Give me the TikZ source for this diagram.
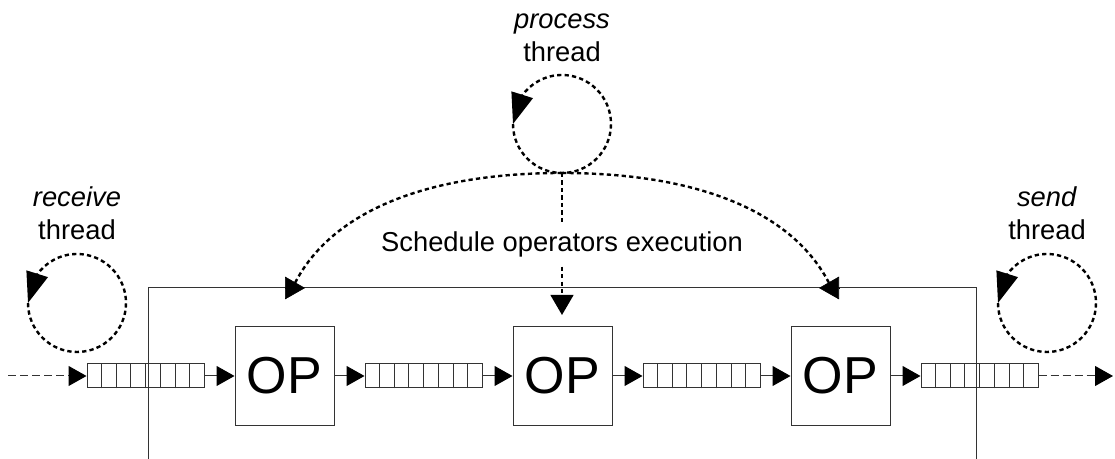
\documentclass[tikz,border=0pt]{standalone}
\usepackage{fontspec}
\setmainfont{Liberation Sans}
\usetikzlibrary{arrows.meta,bending,calc,positioning}

\begin{document}
\begin{tikzpicture}[x=0.75pt,y=0.75pt,
  thin line/.style={draw=black!80,line width=0.75pt},
  queue/.style={thin line,minimum width=87.75pt,minimum height=18pt,inner sep=0pt},
  op/.style={thin line,minimum size=74.25pt,inner sep=0pt,font=\fontsize{39}{39}\selectfont},
  flow/.style={thin line,-{Triangle[length=13.5pt,width=15pt,black]}},
  ext/.style={flow,dash pattern=on 6pt off 3pt},
  thr/.style={line width=1.8pt,dash pattern=on 3.2pt off 2.4pt},
  loop/.style={thr,-{Triangle[length=23pt,width=16.5pt,flex]}},
  schedtip/.style={-{Triangle[length=15pt,width=17pt]}},
  lbl/.style={align=center,anchor=south,inner sep=0pt,font=\fontsize{20.5}{24.75}\selectfont}]
\useasboundingbox (0,0) rectangle (1115,459);

\draw[thin line] (148,0) |- (976,171) -- (976,0);

\node[queue] (q1) at (145.5,83) {};
\node[op, right=22.5pt of q1] (op1) {OP};
\node[queue, right=22.5pt of op1] (q2) {};
\node[op, right=22.5pt of q2] (op2) {OP};
\node[queue, right=22.5pt of op2] (q3) {};
\node[op, right=22.5pt of q3] (op3) {OP};
\node[queue, right=22.5pt of op3] (q4) {};
\foreach \i in {1,...,4}
  \foreach \k in {1,...,7}
    \draw[thin line] ($(q\i.south west)!\k/8!(q\i.south east)$) -- ($(q\i.north west)!\k/8!(q\i.north east)$);
\foreach \i/\j in {1/1,2/2,3/3} {
  \draw[flow] (q\i) -- (op\j);
}
\foreach \i/\j in {1/2,2/3,3/4} {
  \draw[flow] (op\i) -- (q\j);
}
\coordinate (in) at (8,83);
\coordinate (out) at (1113,83);
\draw[ext] (in) -- (q1);
\draw[ext] (q4) -- (out);

\coordinate (rc) at (77,156);
\coordinate (pc) at (562,335);
\coordinate (sc) at (1047,156);
\foreach \c in {rc,pc,sc}
  \draw[loop] ($(\c)+(180:49)$) arc[start angle=180,end angle=540,radius=49];
\node[lbl] (rlbl) at (77,219) {\textit{receive}\\thread};
\node[lbl] (plbl) at (562,397) {\textit{process}\\thread};
\node[lbl] (slbl) at (1047,219) {\textit{send}\\thread};

\coordinate (fork) at (562,286);
\node[font=\fontsize{20.5}{24.75}\selectfont,inner sep=6.5pt,anchor=base] (sched) at (562,207) {Schedule operators execution};
\coordinate (mid) at (562,144);
\draw[thr] (fork) -- (sched.north);
\draw[thr,schedtip] (sched.south) -- (mid);

\coordinate (endL) at (295,176);
\coordinate (endR) at (829,176);
\draw[thr] (fork) .. controls (420,286) and (330,244) .. (endL);
\draw[thr] (fork) .. controls (704,286) and (794,244) .. (endR);
\coordinate (tipL) at (305,171);
\coordinate (tipR) at (819,171);
\draw[schedtip] ($(tipL)+(-20,0)$) -- (tipL);
\draw[schedtip] ($(tipR)+(20,0)$) -- (tipR);
\end{tikzpicture}
\end{document}
